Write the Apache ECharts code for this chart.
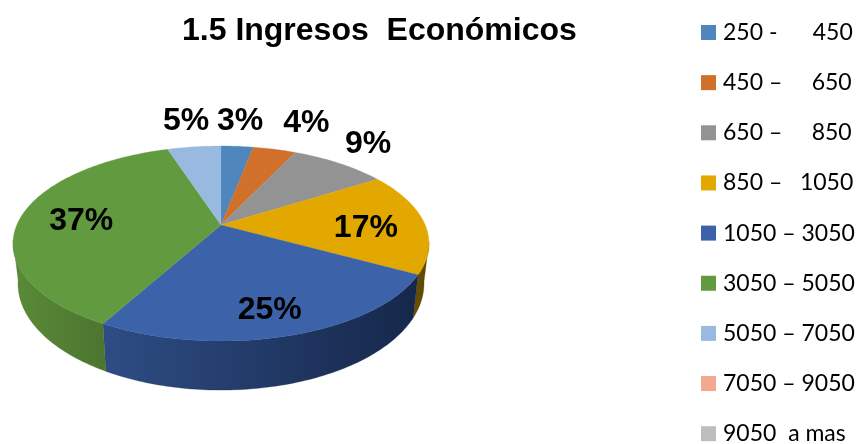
<!DOCTYPE html>
<html>
<head>
<meta charset="utf-8">
<style>html,body{margin:0;padding:0;background:#fff}#c{width:861px;height:444px}</style>
<script src="https://cdn.jsdelivr.net/npm/echarts@6/dist/echarts.min.js"></script>
</head>
<body>
<div id="c"></div>
<script>
var titleText = '1.5 Ingresos  Económicos';
var categories = ['250 -      450', '450 –     650', '650 –     850', '850 –   1050', '1050 – 3050', '3050 – 5050', '5050 – 7050', '7050 – 9050', '9050  a mas'];
var values = [3, 4, 9, 17, 25, 37, 5, 0, 0];
var colors = ['#4f86bc', '#d0702b', '#939393', '#e2a800', '#3c63a9', '#629a3f', '#98b9e0', '#f2a98d', '#bdbdbd'];
var wallStops = [
  ['#4f86bc', '#4f86bc'], ['#d0702b', '#d0702b'], ['#939393', '#939393'],
  ['#6a5000', '#5a4600'], ['#2e4d84', '#16274a'], ['#5a8a38', '#4c752f'],
  ['#98b9e0', '#98b9e0'], ['#f2a98d', '#f2a98d'], ['#bdbdbd', '#bdbdbd']
];
var labelOffsets = [[3, -25], [32, -26], [29, -19], [-58, 6], [-21, -25], [60, 5], [-8, -26], [0, 0], [0, 0]];

var CX = 221, CY = 225, RX = 204.2, RY = 94, K = 0.19, SHRINK = 0.976;
var WALL_A = 43, WALL_B = 0.092, WALL_REF = 275.6, WALL_FROM = 100, WALL_TO = 261;
var total = values.reduce(function (a, b) { return a + b; }, 0);

function rim(deg, r) {
  var t = deg * Math.PI / 180, u = r * Math.sin(t), v = -r * Math.cos(t), w = 1 / (1 - K * v);
  return [CX + RX * u * w, CY + RY * v * w];
}
function lower(p) {
  return [CX + (p[0] - CX) * SHRINK, p[1] + WALL_A + WALL_B * (p[1] - WALL_REF)];
}
function arcPoints(a, b) {
  var pts = [], n = Math.max(2, Math.ceil(b - a));
  for (var i = 0; i <= n; i++) pts.push(rim(a + (b - a) * i / n, 1));
  return pts;
}
function makeRender(idx) {
  return function (params, api) {
    var val = api.value(0);
    if (!val) return { type: 'group', children: [] };
    var before = 0;
    for (var i = 0; i < idx; i++) before += values[i];
    var a = before / total * 360, b = (before + val) / total * 360;
    var children = [];
    var wa = Math.max(a, WALL_FROM), wb = Math.min(b, WALL_TO);
    if (wb > wa) {
      var top = arcPoints(wa, wb);
      var bottom = top.map(lower).reverse();
      var xs = top.concat(bottom).map(function (p) { return p[0]; });
      children.push({
        type: 'polygon', z2: 1,
        shape: { points: top.concat(bottom) },
        style: {
          fill: {
            type: 'linear', global: true,
            x: Math.min.apply(null, xs), y: 0, x2: Math.max.apply(null, xs), y2: 0,
            colorStops: [{ offset: 0, color: wallStops[idx][0] }, { offset: 1, color: wallStops[idx][1] }]
          },
          stroke: wallStops[idx][1], lineWidth: 0.3
        }
      });
    }
    children.push({
      type: 'polygon', z2: 2,
      shape: { points: [[CX, CY]].concat(arcPoints(a, b)) },
      style: { fill: colors[idx], stroke: colors[idx], lineWidth: 0.3 }
    });
    var anchor = rim((a + b) / 2, 1);
    children.push({
      type: 'text', z2: 10,
      x: anchor[0] + labelOffsets[idx][0], y: anchor[1] + labelOffsets[idx][1],
      style: {
        text: Math.round(val / total * 100) + '%',
        fill: '#000', font: 'bold 32px "Liberation Sans", Arial, sans-serif',
        align: 'center', verticalAlign: 'middle'
      }
    });
    return { type: 'group', children: children };
  };
}

var chart = echarts.init(document.getElementById('c'), null, { renderer: 'canvas' });
chart.setOption({
  animation: false,
  backgroundColor: '#fff',
  title: {
    text: titleText, left: 182, top: 15, padding: 0,
    textStyle: { fontFamily: '"Liberation Sans", Arial, sans-serif', fontWeight: 'bold', fontSize: 32, color: '#000' }
  },
  legend: {
    orient: 'vertical', left: 701, top: 21, height: 470, padding: 0,
    itemWidth: 15, itemHeight: 15, itemGap: 27.15, icon: 'rect', selectedMode: false,
    textStyle: { fontFamily: 'Lato, sans-serif', fontSize: 23, color: '#000', lineHeight: 15, padding: [0, 0, 0, 2] },
    data: categories
  },
  tooltip: { show: false },
  series: categories.map(function (name, i) {
    return {
      type: 'custom', name: name, coordinateSystem: 'none', silent: true,
      itemStyle: { color: colors[i] },
      renderItem: makeRender(i),
      data: [[values[i]]]
    };
  })
});
</script>
</body>
</html>
